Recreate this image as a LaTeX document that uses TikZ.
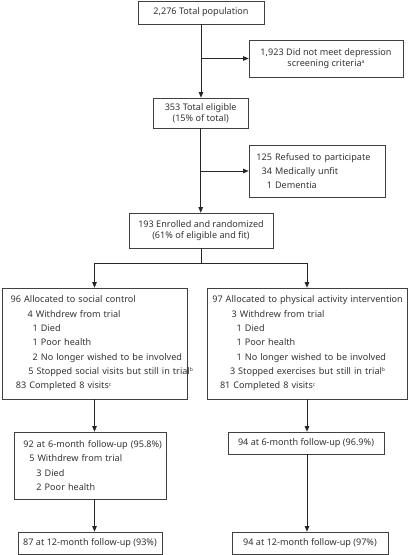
\documentclass[tikz,border=0pt]{standalone}
\usepackage{fontspec}
\setmainfont{Noto Sans}
\usetikzlibrary{arrows.meta}
\newcommand\fsc{\fontsize{9.1}{10.8}\selectfont}
\newcommand\fsl{\fontsize{9.1}{14.3}\selectfont}
\newcommand\sups[1]{\raisebox{0.55ex}{\fontsize{5}{5}\selectfont #1}}
\newcommand\lineat[2]{\hspace*{#1pt}\mbox{#2}}
\begin{document}
\begin{tikzpicture}[x=1pt,y=-1pt,
  box/.style={draw=black!75, line width=0.7pt, inner xsep=2pt, inner ysep=0pt, text=black!80},
  cbox/.style={box, align=center, font=\fsc},
  lbox/.style={box, align=left, font=\fsl},
  arr/.style={-{Triangle[length=5.5pt,width=4.5pt]}, line width=0.7pt, draw=black!85},
  ln/.style={line width=0.7pt, draw=black!85}]
\path[use as bounding box] (0,0) rectangle (408,555);

% top part
\node[cbox, minimum width=126, minimum height=23] (top) at (201,12.5) {2,276 Total population};
\node[cbox, minimum width=154, minimum height=37] (ex1) at (326,58.5) {1,923 Did not meet depression\\screening criteria\sups{a}};
\node[cbox, minimum width=95, minimum height=30] (elig) at (200.7,113) {353 Total eligible\\(15\% of total)};
\node[lbox, minimum width=136, minimum height=52, text width=132] (ex2) at (317,171)
  {\lineat{7}{\makebox[14pt][r]{125} Refused to participate}\\
   \lineat{7}{\makebox[14pt][r]{34} Medically unfit}\\
   \lineat{7}{\makebox[14pt][r]{1} Dementia}};
\node[cbox, minimum width=144, minimum height=35] (enr) at (201,230.5) {193 Enrolled and randomized\\(61\% of eligible and fit)};

% allocation boxes
\node[lbox, minimum width=185, minimum height=111, text width=181] (lb) at (94.5,343.5)
  {\lineat{6.7}{96 Allocated to social control}\\
   \lineat{23.7}{4 Withdrew from trial}\\
   \lineat{28.7}{1 Died}\\
   \lineat{28.7}{1 Poor health}\\
   \lineat{28.7}{2 No longer wished to be involved}\\
   \lineat{24.3}{5 Stopped social visits but still in trial\sups{b}}\\
   \lineat{12}{83 Completed 8 visits\sups{c}}};
\node[lbox, minimum width=200, minimum height=111, text width=196] (rb) at (307,343.5)
  {\lineat{3.3}{97 Allocated to physical activity intervention}\\
   \lineat{22.7}{3 Withdrew from trial}\\
   \lineat{27.7}{1 Died}\\
   \lineat{27.7}{1 Poor health}\\
   \lineat{27.7}{1 No longer wished to be involved}\\
   \lineat{21}{3 Stopped exercises but still in trial\sups{b}}\\
   \lineat{11}{81 Completed 8 visits\sups{c}}};

% follow-up boxes
\node[lbox, minimum width=152, minimum height=67, text width=148] (l6) at (90,465.5)
  {\lineat{7.3}{92 at 6-month follow-up (95.8\%)}\\
   \lineat{13.3}{5 Withdrew from trial}\\
   \lineat{20.5}{3 Died}\\
   \lineat{20.5}{2 Poor health}};
\node[cbox, minimum width=156, minimum height=22] (r6) at (306,443) {94 at 6-month follow-up (96.9\%)};
\node[cbox, minimum width=144, minimum height=22] (l12) at (90,543) {87 at 12-month follow-up (93\%)};
\node[cbox, minimum width=156, minimum height=22] (r12) at (310,543) {94 at 12-month follow-up (97\%)};

% connectors
\draw[arr] (top.south) -- (top.south |- elig.north);
\draw[arr] (top.south |- ex1.west) -- (ex1.west);
\draw[arr] (elig.south) -- (elig.south |- enr.north);
\draw[arr] (elig.south |- ex2.west) -- (ex2.west);
\coordinate (split) at (201,263);
\draw[ln] (enr.south) -- (split);
\draw[arr] (split) -| (lb.north);
\draw[arr] (split) -| (rb.north);
\draw[arr] (lb.south) -- (lb.south |- l6.north);
\draw[arr] (lb.south |- l6.south) -- (lb.south |- l12.north);
\draw[arr] (rb.south) -- (rb.south |- r6.north);
\draw[arr] (rb.south |- r6.south) -- (rb.south |- r12.north);
\end{tikzpicture}
\end{document}
